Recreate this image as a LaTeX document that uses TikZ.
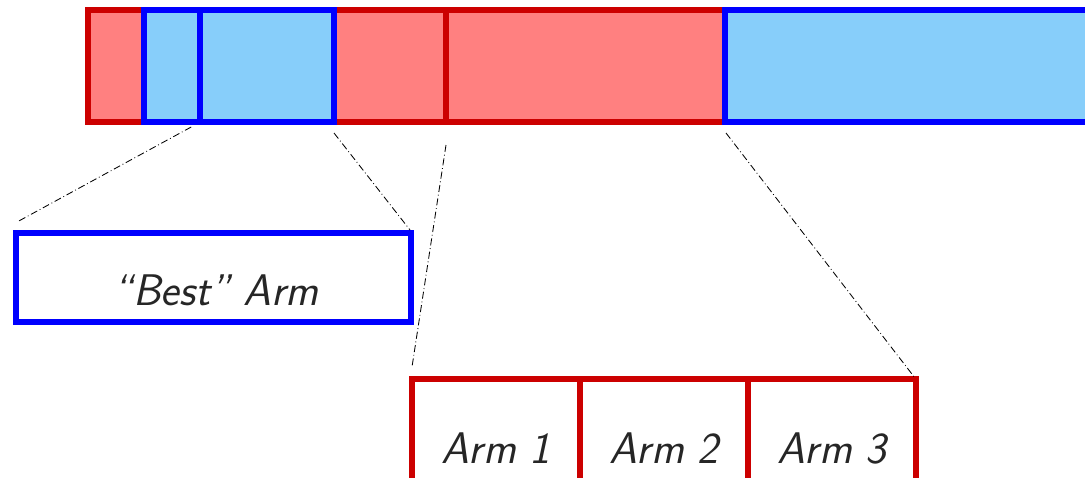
\documentclass[tikz,border=0pt]{standalone}
\usepackage{xcolor}
\usepackage{tikz}
\definecolor{armred}{RGB}{204,0,0}
\definecolor{armpink}{RGB}{255,128,128}
\definecolor{armblue}{RGB}{0,0,255}
\definecolor{armsky}{RGB}{135,206,250}

\begin{document}
\begin{tikzpicture}[
  redbox/.style={draw=armred,fill=armpink,line width=0.15cm},
  bluebox/.style={draw=armblue,fill=armsky,line width=0.15cm},
  redframe/.style={draw=armred,fill=white,line width=0.15cm},
  blueframe/.style={draw=armblue,fill=white,line width=0.15cm},
  zoomline/.style={line width=0.6pt,dash pattern=on 5pt off 2pt on 0.6pt off 2pt},
  armlabel/.style={anchor=base,text=black!85,font=\fontsize{31.5}{36}\selectfont\sffamily\itshape}
]
\useasboundingbox (0,0) rectangle (27.125,-11.95);
\clip (0,0) rectangle (27.125,-11.95);
% the bar
\draw[redbox] (2.2,-0.25) rectangle (18.125,-3.05);
\draw[armred,line width=0.15cm] (11.15,-0.25) -- (11.15,-3.05);
\draw[bluebox] (3.6,-0.25) rectangle (5,-3.05);
\draw[bluebox] (5,-0.25) rectangle (8.35,-3.05);
\draw[bluebox] (18.125,-0.25) rectangle (28,-3.05);
% zoomed boxes
\draw[blueframe] (0.4,-5.825) rectangle (10.275,-8.05);
\draw[redframe] (10.3,-9.475) rectangle (14.5,-12.5);
\draw[redframe] (14.5,-9.475) rectangle (18.7,-12.5);
\draw[redframe] (18.7,-9.475) rectangle (22.9,-12.5);
\node[armlabel] (best) at (5.4,-7.625) {“Best” Arm};
\node[armlabel] (arm1) at (12.4,-11.575) {Arm 1};
\node[armlabel] (arm2) at (16.6,-11.575) {Arm 2};
\node[armlabel] (arm3) at (20.8,-11.575) {Arm 3};
% zoom lines
\coordinate (bestL) at (4.78,-3.175);
\coordinate (bestR) at (8.35,-3.325);
\coordinate (armsL) at (11.15,-3.625);
\coordinate (armsR) at (18.15,-3.325);
\coordinate (boxTL) at (0.425,-5.55);
\coordinate (boxTR) at (10.25,-5.75);
\coordinate (armTL) at (10.3,-9.175);
\coordinate (armTR) at (22.875,-9.45);
\draw[zoomline] (bestL) -- (boxTL);
\draw[zoomline] (bestR) -- (boxTR);
\draw[zoomline] (armsL) -- (armTL);
\draw[zoomline] (armsR) -- (armTR);
\end{tikzpicture}
\end{document}
